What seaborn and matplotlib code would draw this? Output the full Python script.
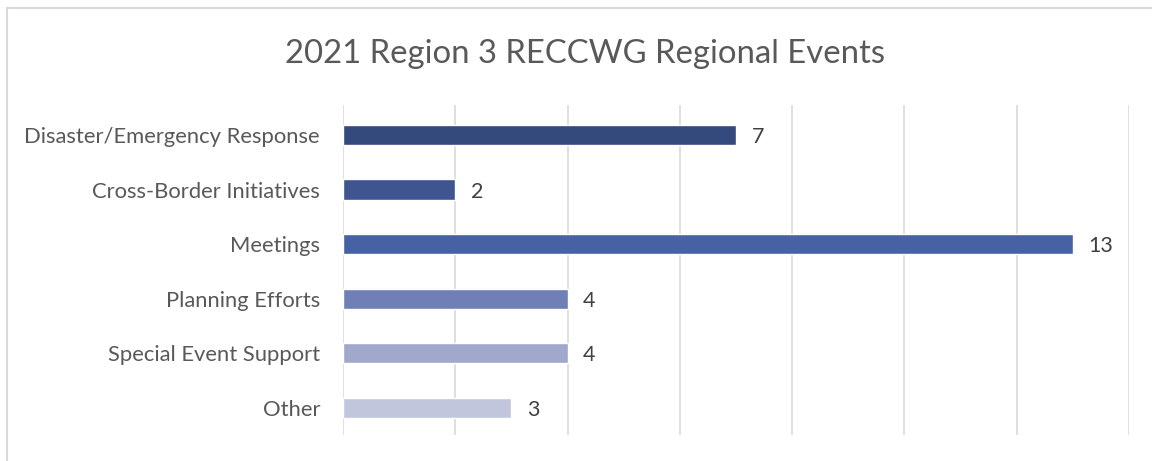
import matplotlib
matplotlib.use("Agg")
import matplotlib.pyplot as plt
import seaborn as sns
import pandas as pd

# Datos del grafico
categorias = ["Disaster/Emergency Response", "Cross-Border Initiatives", "Meetings",
              "Planning Efforts", "Special Event Support", "Other"]
eventos = [7, 2, 13, 4, 4, 3]
colores = ["#344A7D", "#3E5590", "#4661A4", "#7080B6", "#A0A9CC", "#C1C6DC"]

df = pd.DataFrame({"Categoria": categorias, "Eventos": eventos})

sns.set_style("white")
plt.rcParams["font.family"] = ["Lato", "DejaVu Sans"]

fig = plt.figure(figsize=(11.52, 4.61), dpi=100)
ax = fig.add_axes([0.2977, 0.0564, 0.6823, 0.7158])

sns.barplot(data=df, x="Eventos", y="Categoria", hue="Categoria", palette=colores,
            saturation=1, legend=False, width=0.37, ax=ax, orient="h")

ax.set_xlim(0, 14)
ax.set_ylim(5.5, -0.55)
ax.set_xticks(range(0, 15, 2))
ax.grid(axis="x", color="#D9D9D9", linewidth=1.2)
ax.set_axisbelow(True)
ax.tick_params(axis="x", labelbottom=False, length=0)
ax.tick_params(axis="y", length=0, pad=16.5, labelsize=15.8, labelcolor="#595959")
for s in ax.spines.values():
    s.set_visible(False)
ax.set_xlabel("")
ax.set_ylabel("")

# Etiquetas de valores
for i, v in enumerate(eventos):
    ax.text(v + 0.28, i, str(v), va="center_baseline", ha="left", fontsize=15.5, color="#404040")

fig.suptitle("2021 Region 3 RECCWG Regional Events", x=0.508, y=0.915,
             fontsize=23.7, color="#595959")

# Borde de la figura (solo se ven arriba e izquierda)
fig.patches.append(plt.Rectangle((0.006, -0.1), 1.1, 1.0816, transform=fig.transFigure,
                                 fill=False, edgecolor="#D9D9D9", linewidth=1.5))

fig.savefig("out.png", dpi=100, facecolor="white")
